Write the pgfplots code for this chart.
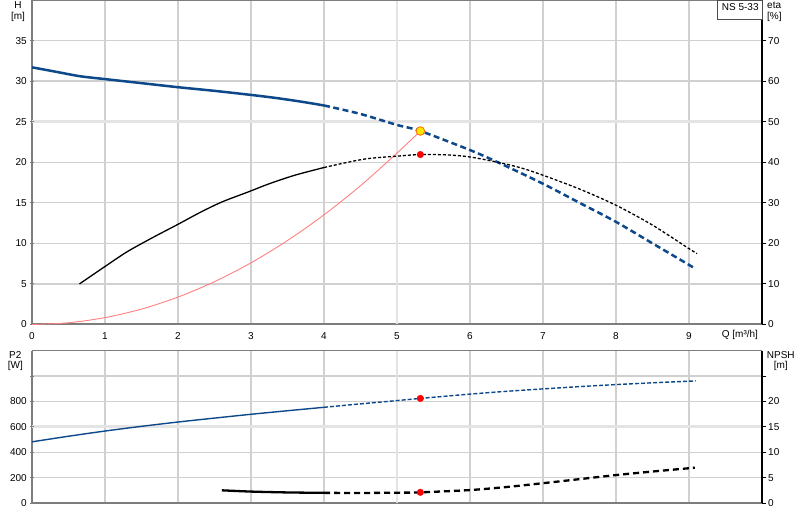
\documentclass[border=0pt]{standalone}
\usepackage{pgfplots}
\pgfplotsset{compat=1.18}
\usepackage{fontspec}
\setmainfont{Liberation Sans}

\definecolor{hblue}{RGB}{12,72,138}
\definecolor{gridc}{RGB}{208,208,208}
\definecolor{gridl}{RGB}{228,228,228}
\definecolor{axgray}{RGB}{125,125,125}
\definecolor{sysred}{RGB}{255,128,128}
\definecolor{dotyel}{RGB}{255,230,0}

\pgfplotsset{
  panel/.style={
    scale only axis, width=730bp, xmin=0, xmax=10,
    /pgf/number format/assume math mode=true,
    tick label style={inner sep=0pt},
    tick align=outside, major tick length=4bp,
  },
  leftax/.style={
    panel,
    axis x line=bottom, axis y line=left,
    axis line style={-, axgray, line width=2bp},
    xtick={0,1,2,3,4,6,7,8,9}, extra x ticks={5},
    grid=major, major grid style={gridc, line width=1.3bp},
    extra tick style={grid=major, major grid style={gridl, line width=2.8bp}},
    xtick style={draw=none},
    ytick style={axgray, line width=1bp},
    yticklabel style={anchor=east, xshift=-3bp},
  },
  rightax/.style={
    panel,
    axis x line=none, axis y line*=right,
    axis line style={-, black, line width=1.3bp},
    ytick style={black, line width=1bp},
    yticklabel style={anchor=west, xshift=2bp},
  },
  hsolid/.style={hblue, line width=2.5bp, smooth},
  hdash/.style={hblue, line width=2.5bp, smooth, dash pattern=on 6bp off 3.5bp},
  esolid/.style={black, line width=1.3bp, smooth},
  edash/.style={black, line width=1.3bp, smooth, dash pattern=on 3bp off 2bp},
  psolid/.style={hblue, line width=1.4bp, smooth},
  pdash/.style={hblue, line width=1.4bp, smooth, dash pattern=on 4bp off 2bp},
  nsolid/.style={black, line width=2.3bp, smooth},
  ndash/.style={black, line width=2.3bp, smooth, dash pattern=on 6bp off 4bp},
  reddot/.style={only marks, mark=*, mark size=3.3bp, mark options={fill=red, draw=red}},
}

\begin{document}
\begin{tikzpicture}[font=\fontsize{10bp}{12bp}\selectfont]
\useasboundingbox (0,0) rectangle (800bp,520bp);

% ---------------- upper panel: H and eta ----------------
\begin{axis}[leftax, at={(32bp,195.5bp)}, anchor=south west, height=324.5bp,
  ymin=0, ymax=40,
  ytick={0,5,10,15,20,30,35}, extra y ticks={25},
  xticklabel style={anchor=base, yshift=-13bp},
]
  % system curve
  \addplot[sysred, line width=0.9bp, smooth] coordinates {
    (0,0) (0.5,0.21) (1.0,0.85) (1.5,1.9) (2.0,3.38) (2.5,5.28)
    (3.0,7.6) (3.5,10.35) (4.0,13.52) (4.5,17.11) (5.0,21.13) (5.32,23.85)
  };
  % head curve
  \addplot[hsolid] coordinates {
    (0,31.7) (0.33,31.15) (0.66,30.6) (1.0,30.25) (1.5,29.75) (2.0,29.25)
    (2.5,28.8) (3.0,28.3) (3.36,27.9) (3.7,27.45) (4.0,27.0)
  };
  \addplot[hdash] coordinates {
    (4.0,27.0) (4.5,25.95) (5.0,24.6) (5.32,23.85) (6.0,21.5) (6.38,20.0)
    (7.0,17.35) (7.5,15.0) (8.0,12.65) (8.5,10.0) (9.0,7.35) (9.08,6.9)
  };
  \addplot[only marks, mark=*, mark size=4.3bp,
    mark options={fill=dotyel, draw=orange!80!red, line width=0.8bp}]
    coordinates {(5.32,23.85)};
\end{axis}
\begin{axis}[rightax, at={(32bp,195.5bp)}, anchor=south west, height=324.5bp,
  ymin=0, ymax=80, ytick={0,10,...,70},
]
  \addplot[esolid] coordinates {
    (0.65,10.0) (1.0,14.3) (1.3,17.9) (1.65,21.4) (2.0,24.7) (2.3,27.6)
    (2.6,30.2) (2.95,32.6) (3.25,34.7) (3.6,36.8) (4.0,38.7)
  };
  \addplot[edash] coordinates {
    (4.0,38.7) (4.3,39.9) (4.6,40.9) (5.0,41.5) (5.32,41.9) (5.7,41.8)
    (6.0,41.3) (6.38,40.0) (6.7,38.6) (7.0,36.8) (7.5,33.4) (8.0,29.4)
    (8.5,24.5) (9.0,18.7) (9.11,17.5)
  };
  \addplot[reddot] coordinates {(5.32,41.9)};
\end{axis}

% ---------------- lower panel: P2 and NPSH ----------------
\begin{axis}[leftax, at={(32bp,17bp)}, anchor=south west, height=152.3bp,
  ymin=0, ymax=1200,
  ytick={0,200,400,800,1000}, yticklabels={0,200,400,800,},
  extra y ticks={600},
  xticklabels={}, extra x tick labels={},
]
  \addplot[psolid] coordinates {
    (0,482) (0.5,526) (1.0,567) (1.5,604) (2.0,638) (2.5,669)
    (3.0,699) (3.5,727) (4.0,754)
  };
  \addplot[pdash] coordinates {
    (4.0,754) (4.5,781) (5.0,807) (5.32,824) (6.0,858) (6.5,880)
    (7.0,899) (7.5,917) (8.0,933) (8.5,947) (9.09,962)
  };
  \addplot[reddot] coordinates {(5.32,824)};
\end{axis}
\begin{axis}[rightax, at={(32bp,17bp)}, anchor=south west, height=152.3bp,
  ymin=0, ymax=30, ytick={0,5,...,25}, yticklabels={0,5,10,15,20,},
]
  \addplot[nsolid] coordinates {
    (2.6,2.5) (3.0,2.25) (3.5,2.08) (4.0,2.0)
  };
  \addplot[ndash] coordinates {
    (4.0,2.0) (4.5,1.98) (5.0,2.03) (5.32,2.1) (6.0,2.55) (6.5,3.15)
    (7.0,3.9) (7.5,4.7) (8.0,5.5) (8.5,6.2) (9.08,6.95)
  };
  \addplot[reddot] coordinates {(5.32,2.1)};
\end{axis}

% panel top borders
\draw[axgray, line width=1.2bp] (32bp,519.5bp) -- (762bp,519.5bp);
\draw[axgray, line width=1.6bp] (32bp,169.3bp) -- (762bp,169.3bp);

% axis titles
\begin{scope}[every node/.style={inner sep=0pt}]
  \node[anchor=base] at (18bp,511.7bp) {H};
  \node[anchor=base] at (18bp,500.7bp) {[m]};
  \node[anchor=base west] at (767bp,511.7bp) {eta};
  \node[anchor=base west] at (767bp,500.7bp) {[\%]};
  \node[anchor=base west] at (721.7bp,182.3bp) {Q [m³/h]};
  \node[anchor=base] at (15.3bp,161.3bp) {P2};
  \node[anchor=base] at (15.3bp,151bp) {[W]};
  \node[anchor=base west] at (766.7bp,161.3bp) {NPSH};
  \node[anchor=base] at (780.7bp,151bp) {[m]};
\end{scope}

% curve label box
\draw[black!70, line width=0.8bp, fill=white] (717.5bp,500.7bp) rectangle (762bp,520bp);
\node[anchor=base west, inner sep=0pt] at (721.7bp,509.3bp) {NS 5-33};
\end{tikzpicture}
\end{document}
